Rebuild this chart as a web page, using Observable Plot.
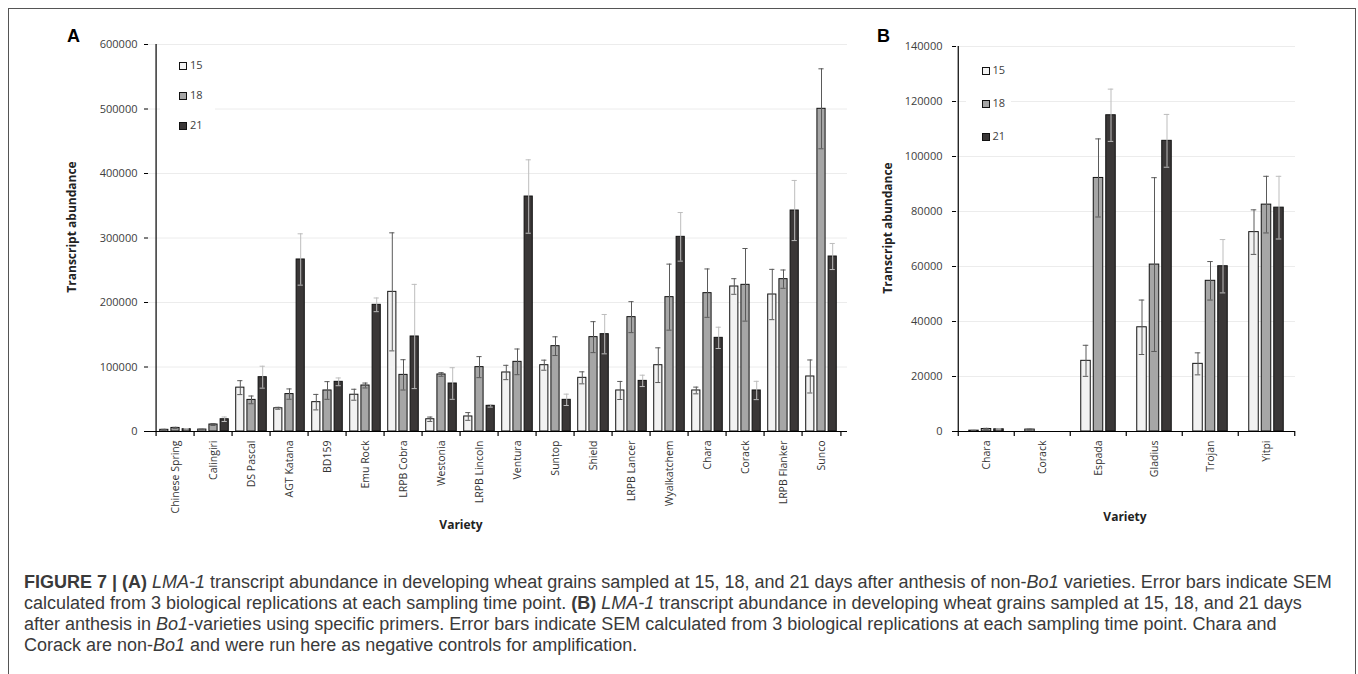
<!DOCTYPE html>
<html><head><meta charset="utf-8">
<script src="https://cdn.jsdelivr.net/npm/d3@7"></script>
<script src="https://cdn.jsdelivr.net/npm/@observablehq/plot@0.6"></script>
<style>
body{margin:0;background:#fff;width:1358px;height:674px;overflow:hidden;position:relative;font-family:"Open Sans",sans-serif}
#frame{position:absolute;left:8px;top:8px;width:1348px;height:720px;border:1.5px solid #555;box-sizing:border-box}
.abs{position:absolute}
.panel{font-family:"Liberation Sans",Arial,sans-serif;font-weight:bold;font-size:18px;line-height:18px;color:#000}
.ytitle{width:220px;text-align:center;font-weight:bold;font-size:12px;line-height:14px;color:#222;transform:rotate(-90deg)}
.xtitle{width:120px;text-align:center;font-weight:bold;font-size:12px;line-height:14px;color:#222}
.legend{background:#fff}
.legend .sq{position:absolute;width:6px;height:6px;border:1px solid #111}
.legend .lb{position:absolute;font-size:11px;line-height:12px;color:#404040}
#caption{left:24px;top:572px;width:1330px;font-family:"Liberation Sans",Arial,sans-serif;font-size:18px;line-height:21px;color:#3a3a3a}
#caption div{white-space:nowrap}
</style></head><body>
<div id="frame"></div>
<div id="plotA" class="abs" style="left:0;top:0"></div>
<div id="plotB" class="abs" style="left:870px;top:0"></div>
<div class="abs panel" style="left:67px;top:27px">A</div>
<div class="abs panel" style="left:877px;top:27px">B</div>
<div class="abs ytitle" style="left:-38px;top:220px">Transcript abundance</div>
<div class="abs ytitle" style="left:778px;top:221px">Transcript abundance</div>
<div class="abs xtitle" style="left:401px;top:518px">Variety</div>
<div class="abs xtitle" style="left:1065px;top:510px">Variety</div>
<div id="legA" class="abs legend" style="left:160px;top:50px;width:55px;height:90px"></div>
<div id="legB" class="abs legend" style="left:966px;top:52px;width:45px;height:100px"></div>
<div id="caption" class="abs">
<div><b>FIGURE 7 | (A)</b> <i>LMA-1</i> transcript abundance in developing wheat grains sampled at 15, 18, and 21 days after anthesis of non-<i>Bo1</i> varieties. Error bars indicate SEM</div>
<div>calculated from 3 biological replications at each sampling time point. <b>(B)</b> <i>LMA-1</i> transcript abundance in developing wheat grains sampled at 15, 18, and 21 days</div>
<div>after anthesis in <i>Bo1</i>-varieties using specific primers. Error bars indicate SEM calculated from 3 biological replications at each sampling time point. Chara and</div>
<div>Corack are non-<i>Bo1</i> and were run here as negative controls for amplification.</div>
</div>
<script>
// ---- data ----
const series = ["15", "18", "21"];
const seriesFill = ["#f2f2f2", "#a6a6a6", "#3a3737"];
const errColor = ["#5a5a5a", "#5a5a5a", "#bdbdbd"];

const varietiesA = ["Chinese Spring","Calingiri","DS Pascal","AGT Katana","BD159","Emu Rock","LRPB Cobra","Westonia","LRPB Lincoln","Ventura","Suntop","Shield","LRPB Lancer","Wyalkatchem","Chara","Corack","LRPB Flanker","Sunco"];
const a15 = [2600, 3000, 68000, 36000, 45500, 57000, 216500, 19000, 23300, 91500, 102800, 83200, 63600, 102800, 63600, 224800, 212400, 85300];
const a18 = [5500, 10800, 49000, 58000, 63600, 71300, 87800, 88400, 99800, 108000, 132300, 146300, 177300, 208300, 214500, 227400, 236200, 500300];
const a21 = [3500, 19000, 84200, 266700, 77000, 196400, 147300, 74400, 39800, 364300, 49100, 150900, 78500, 301800, 145200, 63600, 342600, 271300];
const ea15 = [800, 500, 10800, 1500, 12000, 8500, 91500, 3400, 6000, 11100, 7800, 9300, 14000, 26900, 5200, 12100, 39000, 25600];
const ea18 = [1000, 1500, 6000, 8000, 13700, 3800, 23500, 2800, 16300, 19900, 14500, 24000, 24000, 51200, 37500, 56300, 14200, 62000];
const ea21 = [1000, 3500, 17000, 39800, 6000, 10600, 80800, 24500, 2000, 56900, 8800, 30500, 8800, 37700, 16500, 14200, 46600, 20200];
const ticksA = [0, 100000, 200000, 300000, 400000, 500000, 600000];

const varietiesB = ["Chara","Corack","Espada","Gladius","Trojan","Yitpi"];
const b15 = [300, 700, 25700, 37900, 24600, 72500];
const b18 = [900, 0, 92200, 60700, 54800, 82500];
const b21 = [800, 0, 115000, 105700, 60100, 81400];
const eb15 = [100, 150, 5650, 9900, 4000, 8100];
const eb18 = [250, 0, 14200, 31600, 7000, 10300];
const eb21 = [200, 0, 9500, 9600, 9700, 11400];
const ticksB = [0, 20000, 40000, 60000, 80000, 100000, 120000, 140000];

function panel(o) {
  const {vars, vals, errs, ticks, width, height, ml, mr, mt, mb, bw, gap, cap, tickPad} = o;
  const n = vars.length;
  const step = (width - ml - mr) / n;
  const pad = (step - 3 * bw - 2 * gap) / 2;
  const marks = [Plot.gridY(ticks, {stroke: "#ececec", strokeOpacity: 1})];
  const rowsBy = series.map((s, k) => vars.map((v, i) => ({variety: v, value: vals[k][i], err: errs[k][i]})));
  rowsBy.forEach((rows, k) => {
    const left = pad + k * (bw + gap);
    marks.push(Plot.barY(rows.filter(d => d.value > 0), {
      x: "variety", y: "value", fill: seriesFill[k], stroke: "#111", strokeWidth: 1,
      insetLeft: left, insetRight: step - left - bw
    }));
  });
  rowsBy.forEach((rows, k) => {
    const left = pad + k * (bw + gap);
    const cx = left + bw / 2;
    const er = rows.filter(d => d.err > 0);
    marks.push(Plot.ruleX(er, {x: "variety", y1: d => d.value - d.err, y2: d => d.value + d.err, dx: cx - step / 2, stroke: errColor[k], strokeWidth: 1}));
    for (const f of [d => d.value - d.err, d => d.value + d.err]) {
      marks.push(Plot.tickY(er, {x: "variety", y: f, stroke: errColor[k], strokeWidth: 1, insetLeft: cx - cap / 2, insetRight: step - cx - cap / 2}));
    }
  });
  // axis lines
  marks.push(Plot.ruleY([0], {stroke: "#000", strokeWidth: 1.2}));
  marks.push(Plot.ruleX([vars[0]], {dx: -step / 2, y1: 0, y2: ticks[ticks.length - 1], stroke: "#000", strokeWidth: 1.2}));
  marks.push(Plot.ruleX(vars, {dx: -step / 2, y1: 0, y2: 0, insetBottom: -5, stroke: "#000", strokeWidth: 1.2}));
  marks.push(Plot.ruleX([vars[n - 1]], {dx: step / 2, y1: 0, y2: 0, insetBottom: -5, stroke: "#000", strokeWidth: 1.2}));
  marks.push(Plot.axisY(ticks, {tickSize: 4, tickPadding: tickPad, tickFormat: d3.format("d"), fontSize: 11, fill: "#404040", stroke: "#000", label: null}));
  marks.push(Plot.axisX({tickSize: 0, tickRotate: -90, tickPadding: 9, fontSize: 10.5, fill: "#333", label: null}));
  return Plot.plot({
    width, height, marginLeft: ml, marginRight: mr, marginTop: mt, marginBottom: mb,
    style: {fontFamily: "Open Sans", background: "transparent", overflow: "visible"},
    x: {type: "band", domain: vars, padding: 0},
    y: {domain: [0, ticks[ticks.length - 1]]},
    marks
  });
}

document.getElementById("plotA").append(panel({
  vars: varietiesA, vals: [a15, a18, a21], errs: [ea15, ea18, ea21], ticks: ticksA,
  width: 870, height: 560, ml: 148, mr: 23, mt: 44, mb: 129, bw: 9, gap: 2.2, cap: 6, tickPad: 7
}));
document.getElementById("plotB").append(panel({
  vars: varietiesB, vals: [b15, b18, b21], errs: [eb15, eb18, eb21], ticks: ticksB,
  width: 488, height: 560, ml: 86, mr: 63, mt: 46, mb: 129, bw: 10, gap: 2.5, cap: 6, tickPad: 10
}));

function legend(id, spacing, x0, y0) {
  const el = document.getElementById(id);
  series.forEach((s, k) => {
    const sq = document.createElement("div");
    sq.className = "sq";
    sq.style.left = x0 + "px";
    sq.style.top = (y0 + k * spacing) + "px";
    sq.style.background = seriesFill[k];
    el.append(sq);
    const lb = document.createElement("div");
    lb.className = "lb";
    lb.style.left = (x0 + 11) + "px";
    lb.style.top = (y0 + k * spacing - 3) + "px";
    lb.textContent = s;
    el.append(lb);
  });
}
legend("legA", 30, 19, 11.5);
legend("legB", 33, 15.5, 14.5);
</script>
</body></html>
